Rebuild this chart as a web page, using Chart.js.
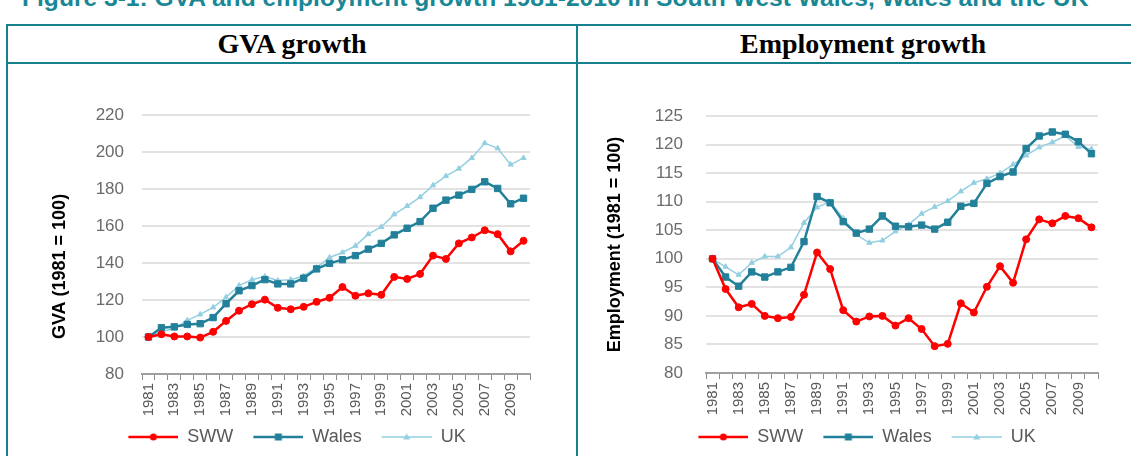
<!DOCTYPE html>
<html>
<head>
<meta charset="utf-8">
<script src="https://cdn.jsdelivr.net/npm/chart.js@4.4.0/dist/chart.umd.min.js"></script>
<style>
  html, body { margin: 0; padding: 0; background: #fff; }
  body { width: 1131px; height: 456px; overflow: hidden; position: relative; font-family: "Liberation Sans", Arial, sans-serif; }
  #fig-title { position: absolute; left: 22px; top: -15px; line-height: 25px; font-weight: bold; font-size: 24.6px; color: #1a8795; white-space: nowrap; }
  .rule { position: absolute; background: #17808f; }
  .head { position: absolute; top: 26px; height: 36px; line-height: 36px; text-align: center;
          font-family: "Liberation Serif", serif; font-weight: bold; font-size: 28px; color: #000; }
  .cell { position: absolute; top: 64px; width: 566px; height: 392px; }
</style>
</head>
<body>
<div id="fig-title">Figure 3-1: GVA and employment growth 1981-2010 in South West Wales, Wales and the UK</div>
<div class="rule" style="left:6px; top:24px; width:1140px; height:2px"></div>
<div class="rule" style="left:6px; top:62px; width:1140px; height:2px"></div>
<div class="rule" style="left:6px; top:24px; width:2px; height:440px"></div>
<div class="rule" style="left:576px; top:24px; width:2px; height:440px"></div>
<div class="head" style="left:8px; width:568px">GVA growth</div>
<div class="head" style="left:578px; width:570px">Employment growth</div>
<div class="cell" style="left:9px"><canvas id="gva"></canvas></div>
<div class="cell" style="left:579px"><canvas id="emp"></canvas></div>

<script>
const years = ['1981', '1982', '1983', '1984', '1985', '1986', '1987', '1988', '1989', '1990',
               '1991', '1992', '1993', '1994', '1995', '1996', '1997', '1998', '1999', '2000',
               '2001', '2002', '2003', '2004', '2005', '2006', '2007', '2008', '2009', '2010'];
const seriesNames = ['SWW', 'Wales', 'UK'];

// GVA index, 1981 = 100
const gvaSWW   = [100, 101.5, 100.3, 100.3, 99.7, 102.8, 108.7, 114.2, 117.7, 120.2,
                  115.8, 115, 116.3, 119, 121.2, 127, 122.3, 123.6, 122.8, 132.5,
                  131.4, 134.1, 144, 142.2, 150.6, 153.8, 157.7, 155.6, 146.3, 152];
const gvaWales = [100, 105, 105.5, 106.8, 107.2, 110.5, 118, 125, 127.8, 131,
                  128.7, 128.7, 131.8, 136.8, 139.8, 141.8, 144, 147.5, 150.6, 155.2,
                  158.8, 162.4, 169.6, 174, 176.7, 179.8, 183.9, 180.3, 172, 175];
const gvaUK    = [100, 103, 104.5, 109, 112.2, 116, 121.5, 127.8, 131, 132.7,
                  130.5, 131, 133, 137.5, 143, 145.7, 149.3, 155.6, 159.5, 166.3,
                  170.8, 175.6, 182, 187, 191, 196.8, 204.8, 202, 193.2, 196.8];

// Employment index, 1981 = 100
const empSWW   = [100, 94.7, 91.5, 92.1, 90, 89.6, 89.8, 93.7, 101.1, 98.2,
                  91, 89, 89.9, 90, 88.3, 89.6, 87.7, 84.7, 85.1, 92.2,
                  90.6, 95.1, 98.7, 95.8, 103.4, 106.9, 106.2, 107.5, 107.1, 105.5];
const empWales = [100, 96.8, 95.2, 97.7, 96.8, 97.7, 98.5, 103, 110.9, 109.8,
                  106.5, 104.5, 105.2, 107.5, 105.7, 105.6, 105.9, 105.2, 106.4, 109.2,
                  109.7, 113.2, 114.4, 115.2, 119.3, 121.5, 122.2, 121.8, 120.5, 118.4];
const empUK    = [100, 98.6, 97.2, 99.3, 100.4, 100.4, 102, 106.3, 109, 110,
                  107.1, 104.2, 102.8, 103.2, 104.8, 106, 107.9, 109.1, 110.1, 111.8,
                  113.3, 114, 115, 116.5, 118.1, 119.5, 120.4, 121.5, 119.6, 119.2];

const gvaAxis = { min: 80, max: 220, step: 20, title: 'GVA (1981 = 100)' };
const empAxis = { min: 80, max: 125, step: 5, title: 'Employment (1981 = 100)' };

const RED = '#ff0000', TEAL = '#23809a', LIGHT = '#93cfe0';
const styles = [
  { color: RED,   point: 'circle',   radius: 3.5, width: 2.5 },
  { color: TEAL,  point: 'rect',     radius: 4.5, width: 2.5 },
  { color: LIGHT, point: 'triangle', radius: 3,   width: 1.5 }
];

// line-with-marker picture for the legend (excel style), 10px blank on the left for spacing
function swatch(st) {
  const c = document.createElement('canvas');
  c.width = 60; c.height = 12;
  const g = c.getContext('2d');
  g.strokeStyle = st.color; g.fillStyle = st.color; g.lineWidth = st.width;
  g.beginPath(); g.moveTo(10, 6); g.lineTo(60, 6); g.stroke();
  g.beginPath();
  if (st.point === 'circle') g.arc(35, 6, 3.5, 0, Math.PI * 2);
  else if (st.point === 'rect') g.rect(31.5, 2.5, 7, 7);
  else { g.moveTo(35, 2.5); g.lineTo(38.5, 8.5); g.lineTo(31.5, 8.5); g.closePath(); }
  g.fill();
  return c;
}
const swatches = styles.map(swatch);

// rotated y axis title, can be nudged along the axis
const yTitle = {
  id: 'yTitle',
  afterDraw(chart, args, opts) {
    const ctx = chart.ctx, a = chart.chartArea;
    ctx.save();
    ctx.translate(opts.x, (a.top + a.bottom) / 2 + opts.shift);
    ctx.rotate(-Math.PI / 2);
    ctx.font = 'bold 18px "Liberation Sans"';
    ctx.fillStyle = '#000';
    ctx.textAlign = 'center';
    ctx.textBaseline = 'middle';
    ctx.fillText(opts.text, 0, 0);
    ctx.restore();
  }
};

function makeChart(id, series, axis, dims) {
  const datasets = series.map((vals, i) => ({
    label: seriesNames[i],
    data: vals,
    borderColor: styles[i].color,
    backgroundColor: styles[i].color,
    borderWidth: styles[i].width,
    pointStyle: styles[i].point,
    pointRadius: styles[i].radius,
    pointBorderWidth: 1,
    tension: 0,
    yAxisID: 'y'
  }));

  return new Chart(document.getElementById(id), {
    type: 'line',
    data: { labels: years, datasets: datasets },
    plugins: [yTitle],
    options: {
      responsive: true,
      maintainAspectRatio: false,
      animation: false,
      layout: { padding: { top: dims.top, left: 0, right: 0, bottom: 0 } },
      plugins: {
        tooltip: { enabled: false },
        yTitle: { text: axis.title, x: dims.titleX, shift: dims.titleShift },
        legend: {
          position: 'bottom',
          labels: {
            usePointStyle: true,
            pointStyleWidth: 60,
            padding: 10,
            color: '#595959',
            font: { family: 'Liberation Sans', size: 18 },
            generateLabels: chart => Chart.defaults.plugins.legend.labels.generateLabels(chart)
              .map((item, i) => Object.assign(item, { pointStyle: swatches[i] }))
          }
        }
      },
      scales: {
        x: {
          offset: true,
          grid: { offset: true, drawOnChartArea: false, tickLength: 6, color: '#8c8c8c', lineWidth: 1 },
          border: { color: '#a0a0a0', width: 2 },
          ticks: {
            autoSkip: false, maxRotation: 90, minRotation: 90, padding: 3,
            color: '#595959', font: { family: 'Liberation Sans', size: 15 },
            callback: (v, i) => (i % 2 === 0 ? years[i] : '')
          },
          afterFit: s => { s.height = dims.xh; }
        },
        y: {
          min: axis.min, max: axis.max,
          ticks: { stepSize: axis.step, padding: dims.tickPad, color: '#6b6b6b', font: { family: 'Liberation Sans', size: 17 } },
          grid: { drawTicks: false, color: '#e2e2e2', lineWidth: 2 },
          border: { display: false },
          afterFit: s => { s.width = dims.yw; }
        },
        pad: {
          position: 'right',
          ticks: { display: false },
          grid: { display: false },
          border: { display: false },
          afterFit: s => { s.width = dims.right; }
        }
      }
    }
  });
}

makeChart('gva', [gvaSWW, gvaWales, gvaUK], gvaAxis,
  { top: 51, right: 45, yw: 133, xh: 44, tickPad: 18, titleX: 51, titleShift: 22 });
makeChart('emp', [empSWW, empWales, empUK], empAxis,
  { top: 52, right: 47, yw: 127, xh: 45, tickPad: 23, titleX: 36, titleShift: 0 });
</script>
</body>
</html>
